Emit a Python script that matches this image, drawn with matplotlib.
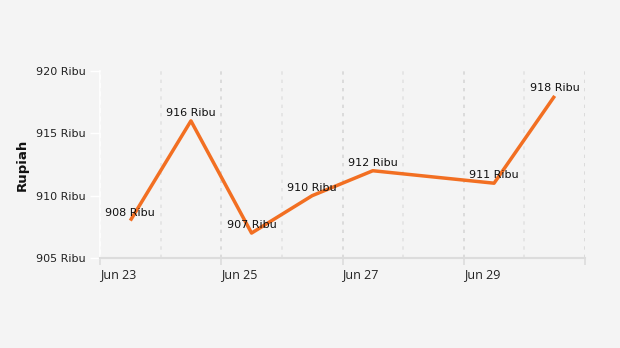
import matplotlib
matplotlib.use("Agg")
import matplotlib.pyplot as plt
import pandas as pd

dates = ["2024-06-23 12:00", "2024-06-24 12:00", "2024-06-25 12:00", "2024-06-26 12:00",
         "2024-06-27 12:00", "2024-06-29 12:00", "2024-06-30 12:00"]
values = [908, 916, 907, 910, 912, 911, 918]
labels = ["908 Ribu", "916 Ribu", "907 Ribu", "910 Ribu", "912 Ribu", "911 Ribu", "918 Ribu"]
yticks = [905, 910, 915, 920]
ytick_labels = ["905 Ribu", "910 Ribu", "915 Ribu", "920 Ribu"]
xmajor = ["2024-06-23", "2024-06-25", "2024-06-27", "2024-06-29", "2024-07-01"]
xmajor_labels = ["Jun 23", "Jun 25", "Jun 27", "Jun 29", ""]
xminor = ["2024-06-24", "2024-06-26", "2024-06-28", "2024-06-30"]

bg = "#f4f4f4"
fig = plt.figure(figsize=(6.2, 3.48), dpi=100, facecolor=bg)
ax = fig.add_axes([100/620, 1-258/348, 485/620, (258-71)/348], facecolor=bg)

x = pd.to_datetime(dates)
ax.plot(x, values, color="#f26f22", lw=2.5, solid_capstyle="butt", zorder=3)
for xi, v, lab in zip(x, values, labels):
    ax.annotate(lab, (xi, v), xytext=(0, 2), textcoords="offset points",
                ha="center", va="bottom", fontsize=8, color="#111111", zorder=4)

ax.set_xlim(pd.Timestamp("2024-06-23"), pd.Timestamp("2024-07-01"))
ax.set_ylim(905, 920)
ax.set_yticks(yticks)
ax.set_yticklabels(ytick_labels, fontsize=8, color="#222222")
ax.set_xticks(pd.to_datetime(xmajor))
ax.set_xticklabels(xmajor_labels, fontsize=9, color="#222222", ha="left", family="Open Sans")
ax.set_xticks(pd.to_datetime(xminor), minor=True)

ax.grid(True, axis="x", which="major", color="#d6d6d6", linestyle=(0, (2, 3)), lw=1.2)
ax.grid(True, axis="x", which="minor", color="#e2e2e2", linestyle=(0, (2, 3)), lw=1.2)
ax.tick_params(axis="x", which="major", length=5, width=1.2, color="#dcdcdc", pad=2)
ax.tick_params(axis="x", which="minor", length=0)
ax.tick_params(axis="y", length=7, width=1, color="#ffffff", pad=3.5)

for s in ["top", "right"]:
    ax.spines[s].set_visible(False)
ax.spines["left"].set_color("#ffffff")
ax.spines["left"].set_linewidth(1.2)
ax.spines["bottom"].set_color("#dcdcdc")
ax.spines["bottom"].set_linewidth(1.5)

ax.set_ylabel("Rupiah", fontsize=9.5, fontweight="bold", color="#111111")
ax.yaxis.set_label_coords(-(100-29)/485, 0.5)

fig.savefig("out.png", dpi=100, facecolor=bg)
